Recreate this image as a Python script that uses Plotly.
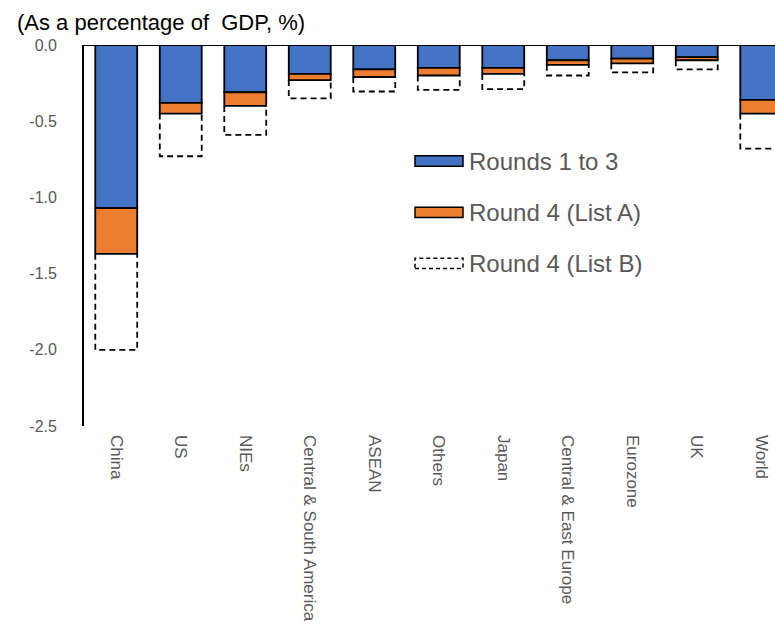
import plotly.graph_objects as go

# Impact on GDP by region (percentage points)
regions = ["China", "US", "NIEs", "Central & South America", "ASEAN", "Others",
           "Japan", "Central & East Europe", "Eurozone", "UK", "World"]
rounds_1_3 = [-1.07, -0.38, -0.31, -0.19, -0.16, -0.15, -0.15, -0.10, -0.09, -0.08, -0.36]
round4_list_a = [-0.30, -0.07, -0.09, -0.04, -0.05, -0.05, -0.04, -0.03, -0.03, -0.02, -0.09]
round4_list_b = [-0.63, -0.28, -0.19, -0.12, -0.095, -0.095, -0.10, -0.07, -0.06, -0.06, -0.23]

y_ticks = [0.0, -0.5, -1.0, -1.5, -2.0, -2.5]
y_tick_text = ["0.0", "-0.5", "-1.0", "-1.5", "-2.0", "-2.5"]

BLUE = "#4472C4"
ORANGE = "#ED7D31"
GREY = "#595959"
FONT = "Liberation Sans, Arial, sans-serif"
BAR_W = 0.65

x = list(range(len(regions)))

fig = go.Figure()
fig.add_trace(go.Bar(x=x, y=rounds_1_3, width=BAR_W, name="Rounds 1 to 3",
                     marker=dict(color=BLUE, line=dict(color="black", width=1.8))))
fig.add_trace(go.Bar(x=x, y=round4_list_a, width=BAR_W, name="Round 4 (List A)",
                     marker=dict(color=ORANGE, line=dict(color="black", width=1.8))))

# List B drawn as open dashed boxes below the stacked bars
ox, oy = [], []
for i, (a, b, c) in enumerate(zip(rounds_1_3, round4_list_a, round4_list_b)):
    top = a + b
    bot = top + c
    ox += [i - BAR_W / 2, i - BAR_W / 2, i + BAR_W / 2, i + BAR_W / 2, None]
    oy += [top, bot, bot, top, None]
fig.add_trace(go.Scatter(x=ox, y=oy, mode="lines", name="Round 4 (List B)",
                         line=dict(color="black", width=1.8, dash="6px,4px"),
                         hoverinfo="skip"))

# Hand-built legend
legend_items = [("Rounds 1 to 3", BLUE, "solid"),
                ("Round 4 (List A)", ORANGE, "solid"),
                ("Round 4 (List B)", "rgba(0,0,0,0)", "4px,3px")]
leg_x0, leg_x1 = 0.479, 0.5485
leg_y = [0.6955, 0.5605, 0.427]
half_h = 0.0135
for (label, col, dash), yc in zip(legend_items, leg_y):
    fig.add_shape(type="rect", xref="paper", yref="paper",
                  x0=leg_x0, x1=leg_x1, y0=yc - half_h, y1=yc + half_h,
                  fillcolor=col, line=dict(color="black", width=1.5, dash=dash))
    fig.add_annotation(xref="paper", yref="paper", x=leg_x1 + 0.006, y=yc,
                       text=label, showarrow=False, xanchor="left", yanchor="middle",
                       font=dict(family=FONT, size=24, color=GREY))

# Category axis line along zero
fig.add_shape(type="line", xref="paper", yref="y", x0=0, x1=1, y0=0, y1=0,
              line=dict(color="black", width=2))

fig.add_annotation(xref="paper", yref="paper", x=-0.1, y=1.06, xanchor="left",
                   yanchor="middle", showarrow=False,
                   text="(As a percentage of  GDP, %)",
                   font=dict(family=FONT, size=22, color="black"))

fig.update_layout(
    width=775, height=627,
    margin=dict(l=84, r=0, t=45, b=201),
    paper_bgcolor="white", plot_bgcolor="white",
    barmode="relative", bargap=0.35,
    showlegend=False,
    font=dict(family=FONT, color=GREY),
    xaxis=dict(range=[-0.5, 10.213], tickmode="array", tickvals=x, ticktext=regions,
               tickangle=90, showgrid=False, zeroline=False, showline=False,
               ticks="", ticklabelstandoff=8,
               tickfont=dict(family=FONT, size=17, color=GREY)),
    yaxis=dict(range=[-2.5, 0], tickmode="array", tickvals=y_ticks, ticktext=y_tick_text,
               showgrid=False, zeroline=False, showline=True, linecolor="black",
               linewidth=1.8, ticks="", ticklabelstandoff=22,
               tickfont=dict(family=FONT, size=16, color=GREY)),
)

fig.write_html("out.html")
